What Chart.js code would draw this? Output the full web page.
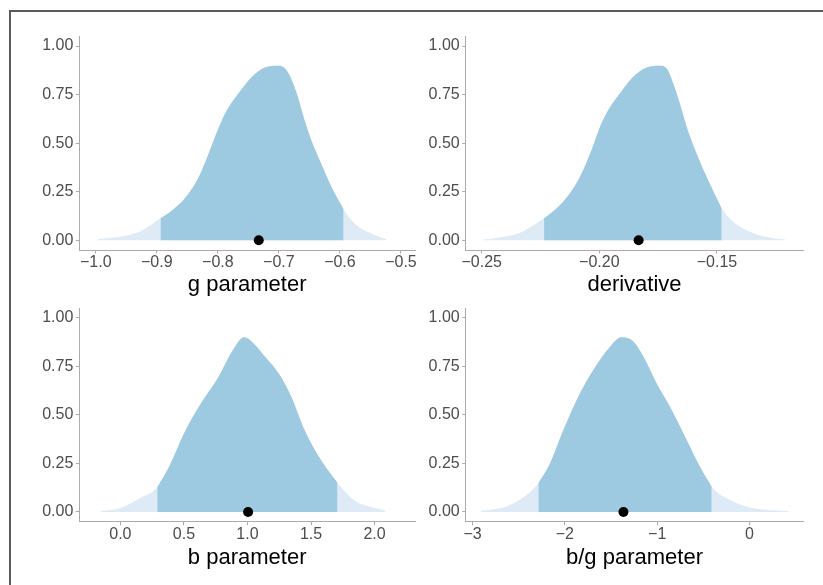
<!DOCTYPE html>
<html>
<head>
<meta charset="utf-8">
<script src="https://cdn.jsdelivr.net/npm/chart.js@4.4.1/dist/chart.umd.min.js"></script>
<style>
  html, body { margin: 0; padding: 0; background: #ffffff; overflow: hidden; }
  body { width: 823px; height: 585px; position: relative; }
  #frame { position: absolute; left: 9px; top: 10px; width: 900px; height: 700px;
           border-top: 2px solid #5a5a5a; border-left: 2px solid #5a5a5a; box-sizing: border-box; }
  canvas { position: absolute; }
</style>
</head>
<body>
<div id="frame"></div>
<canvas id="c1" width="420" height="300" style="left:0px;top:0px;"></canvas>
<canvas id="c2" width="403" height="300" style="left:420px;top:0px;"></canvas>
<canvas id="c3" width="420" height="313" style="left:0px;top:272px;"></canvas>
<canvas id="c4" width="403" height="313" style="left:420px;top:272px;"></canvas>
<script>
// ---------- data ----------
const yTickValues = [0, 0.25, 0.5, 0.75, 1.0];
const yTickLabels = ['0.00', '0.25', '0.50', '0.75', '1.00'];

// g parameter
const gX = [-0.997, -0.966, -0.945, -0.928, -0.894, -0.874, -0.852, -0.831, -0.815, -0.798, -0.785, -0.766, -0.744, -0.723, -0.701, -0.690, -0.679, -0.669, -0.658, -0.647, -0.631, -0.614, -0.594, -0.576, -0.555, -0.539, -0.524];
const gY = [0.005, 0.015, 0.028, 0.044, 0.113, 0.156, 0.224, 0.327, 0.448, 0.585, 0.671, 0.757, 0.842, 0.890, 0.899, 0.885, 0.825, 0.739, 0.619, 0.516, 0.396, 0.276, 0.160, 0.087, 0.044, 0.022, 0.005];
const gLo = -0.894, gHi = -0.594, gMed = -0.733;
const gTickValues = [-1.0, -0.9, -0.8, -0.7, -0.6, -0.5];
const gTickLabels = ['\u22121.0', '\u22120.9', '\u22120.8', '\u22120.7', '\u22120.6', '\u22120.5'];

// derivative
const dX = [-0.2493, -0.2400, -0.2337, -0.2235, -0.2181, -0.2125, -0.2075, -0.2033, -0.1997, -0.1962, -0.1912, -0.1856, -0.1799, -0.1743, -0.1714, -0.1686, -0.1658, -0.1629, -0.1587, -0.1544, -0.1480, -0.1431, -0.1360, -0.1300, -0.1207];
const dY = [0.004, 0.020, 0.039, 0.113, 0.165, 0.242, 0.345, 0.465, 0.585, 0.671, 0.757, 0.842, 0.890, 0.899, 0.885, 0.808, 0.705, 0.585, 0.448, 0.327, 0.165, 0.096, 0.044, 0.020, 0.003];
const dLo = -0.2235, dHi = -0.1480, dMed = -0.1833;
const dTickValues = [-0.25, -0.20, -0.15];
const dTickLabels = ['\u22120.25', '\u22120.20', '\u22120.15'];

// b parameter
const bX = [-0.154, -0.006, 0.15, 0.290, 0.383, 0.514, 0.617, 0.773, 0.877, 0.976, 1.033, 1.137, 1.254, 1.345, 1.449, 1.578, 1.708, 1.839, 2.085];
const bY = [0.005, 0.019, 0.07, 0.127, 0.233, 0.422, 0.542, 0.696, 0.825, 0.899, 0.877, 0.80, 0.705, 0.593, 0.422, 0.268, 0.151, 0.062, 0.007];
const bLo = 0.290, bHi = 1.708, bMed = 1.005;
const bTickValues = [0.0, 0.5, 1.0, 1.5, 2.0];
const bTickLabels = ['0.0', '0.5', '1.0', '1.5', '2.0'];

// b/g parameter
const bgX = [-2.908, -2.594, -2.287, -2.161, -2.016, -1.836, -1.692, -1.511, -1.384, -1.258, -1.15, -1.005, -0.861, -0.68, -0.536, -0.409, -0.211, 0.041, 0.42];
const bgY = [0.005, 0.036, 0.148, 0.25, 0.422, 0.611, 0.731, 0.851, 0.899, 0.877, 0.80, 0.662, 0.542, 0.371, 0.233, 0.13, 0.062, 0.019, 0.005];
const bgLo = -2.287, bgHi = -0.409, bgMed = -1.365;
const bgTickValues = [-3, -2, -1, 0];
const bgTickLabels = ['\u22123', '\u22122', '\u22121', '0'];

// ---------- style ----------
const LIGHT = '#deebf7';
const DARK = '#9ecae1';
const AXIS = '#ababab';
const TICKTXT = '#4d4d4d';
Chart.defaults.font.family = '"Liberation Sans", Arial, sans-serif';
Chart.defaults.animation = false;

function makePanel(id, cfg) {
  const pts = cfg.xs.map((x, i) => ({ x: x, y: cfg.ys[i] }));
  const inner = pts.filter(p => p.x >= cfg.lo - 1e-9 && p.x <= cfg.hi + 1e-9);
  const areaStyle = { showLine: true, pointRadius: 0, borderWidth: 0, borderColor: 'rgba(0,0,0,0)',
                      fill: 'origin', cubicInterpolationMode: 'monotone' };
  new Chart(document.getElementById(id), {
    type: 'scatter',
    data: {
      datasets: [
        { data: [{ x: cfg.med, y: 0 }], pointRadius: 5, pointBackgroundColor: '#000', pointBorderWidth: 0, showLine: false, clip: false },
        Object.assign({ data: inner, backgroundColor: DARK }, areaStyle),
        Object.assign({ data: pts, backgroundColor: LIGHT }, areaStyle)
      ]
    },
    options: {
      responsive: false,
      devicePixelRatio: 1,
      events: [],
      layout: { padding: { left: 0, top: cfg.padTop, right: cfg.padRight, bottom: 0 } },
      plugins: { legend: { display: false }, tooltip: { enabled: false } },
      scales: {
        x: {
          type: 'linear', min: cfg.xmin, max: cfg.xmax,
          afterFit: s => { s.height = cfg.xH; },
          afterBuildTicks: s => { s.ticks = cfg.ticks.map(v => ({ value: v })); },
          grid: { display: true, drawOnChartArea: false, drawTicks: true, tickLength: 3.5, color: AXIS, lineWidth: 1 },
          border: { display: true, color: AXIS, width: 1 },
          ticks: { color: TICKTXT, font: { size: 16, lineHeight: 1 }, padding: 1, maxRotation: 0, autoSkip: false,
                   callback: (v) => { const i = cfg.ticks.indexOf(v); return i >= 0 ? cfg.labels[i] : ''; } },
          title: { display: true, text: cfg.title, color: '#000', font: { size: 22, lineHeight: 1 },
                   padding: { top: 0, bottom: cfg.titlePad } }
        },
        y: {
          type: 'linear', min: -0.05, max: 1.05,
          afterFit: s => { s.width = cfg.yW; },
          afterBuildTicks: s => { s.ticks = yTickValues.map(v => ({ value: v })); },
          grid: { display: true, drawOnChartArea: false, drawTicks: true, tickLength: 3.5, color: AXIS, lineWidth: 1 },
          border: { display: true, color: AXIS, width: 1 },
          ticks: { color: TICKTXT, font: { size: 16, lineHeight: 1 }, padding: 2.5, autoSkip: false,
                   callback: (v) => { const i = yTickValues.indexOf(v); return i >= 0 ? yTickLabels[i] : ''; } }
        }
      }
    }
  });
}

makePanel('c1', { xs: gX, ys: gY, lo: gLo, hi: gHi, med: gMed, ticks: gTickValues, labels: gTickLabels,
  title: 'g parameter', xmin: -1.027, xmax: -0.477, padTop: 36.3, padRight: 1.7, yW: 79.3, xH: 50, titlePad: 4.1 });
makePanel('c2', { xs: dX, ys: dY, lo: dLo, hi: dHi, med: dMed, ticks: dTickValues, labels: dTickLabels,
  title: 'derivative', xmin: -0.2568, xmax: -0.1133, padTop: 36.3, padRight: 19.7, yW: 45.7, xH: 50, titlePad: 4.1 });
makePanel('c3', { xs: bX, ys: bY, lo: bLo, hi: bHi, med: bMed, ticks: bTickValues, labels: bTickLabels,
  title: 'b parameter', xmin: -0.323, xmax: 2.318, padTop: 36, padRight: 1.7, yW: 79.3, xH: 63.3, titlePad: 16.5 });
makePanel('c4', { xs: bgX, ys: bgY, lo: bgLo, hi: bgHi, med: bgMed, ticks: bgTickValues, labels: bgTickLabels,
  title: 'b/g parameter', xmin: -3.074, xmax: 0.583, padTop: 36, padRight: 19.7, yW: 45.7, xH: 63.3, titlePad: 16.5 });
</script>
</body>
</html>
